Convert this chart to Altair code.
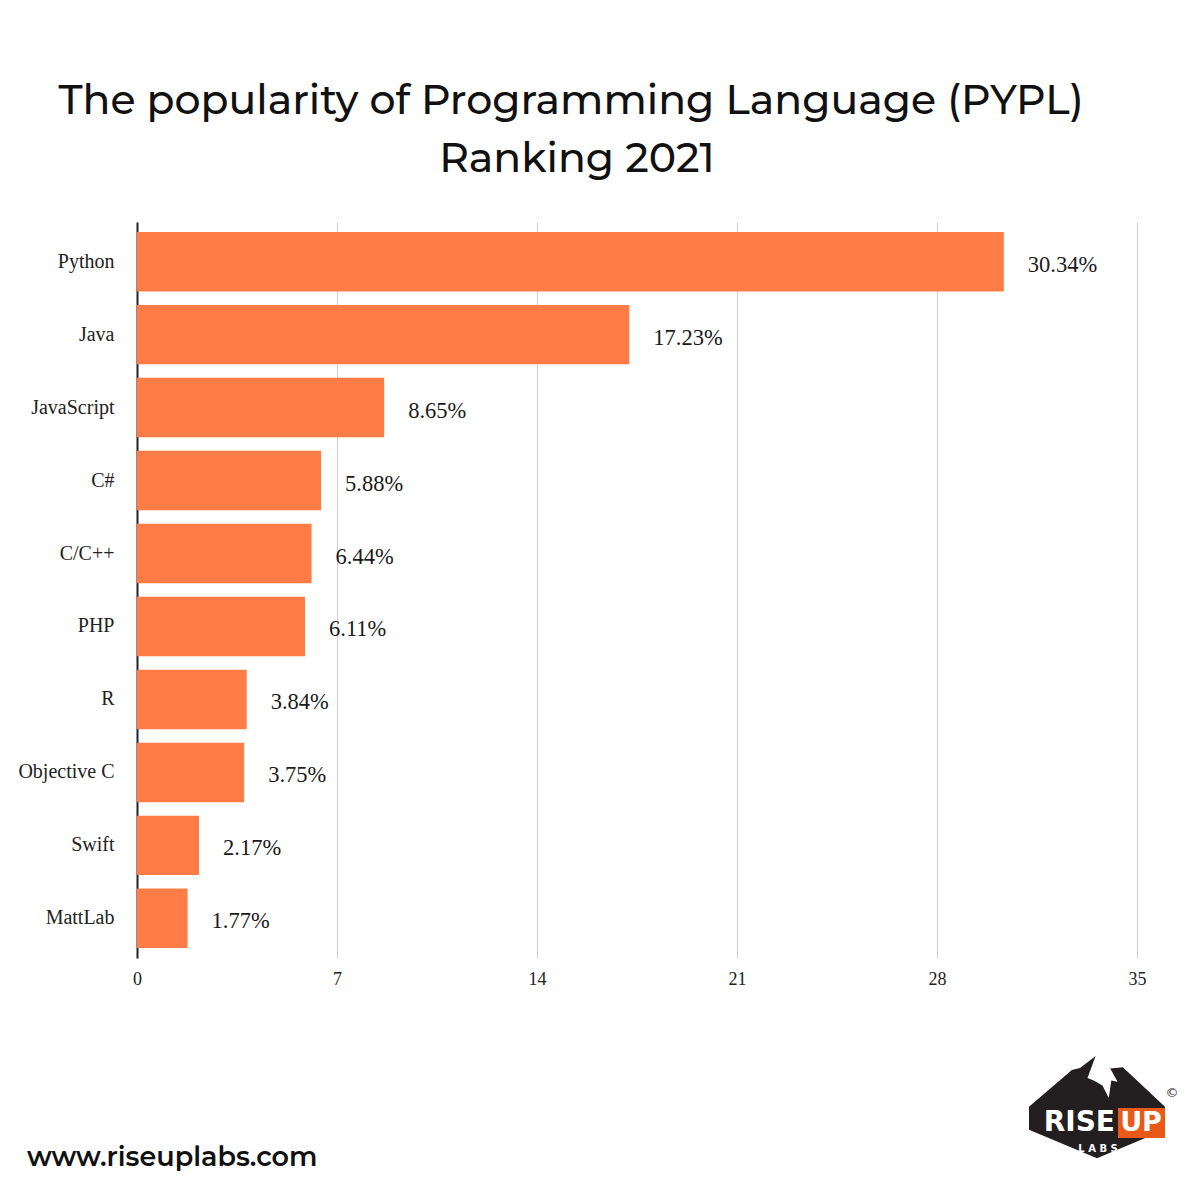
import altair as alt
import pandas as pd

languages = ["Python", "Java", "JavaScript", "C#", "C/C++", "PHP", "R", "Objective C", "Swift", "MattLab"]
bar_values = [30.34, 17.23, 8.65, 6.44, 6.11, 5.88, 3.84, 3.75, 2.17, 1.77]
value_labels = ["30.34%", "17.23%", "8.65%", "5.88%", "6.44%", "6.11%", "3.84%", "3.75%", "2.17%", "1.77%"]
x_ticks = [0, 7, 14, 21, 28, 35]

title_lines = ["The popularity of Programming Language (PYPL)", "Ranking 2021"]
footer_text = "www.riseuplabs.com"

df = pd.DataFrame({"language": languages, "value": bar_values, "label": value_labels})

ORANGE = "#FF7C47"
SERIF = "Liberation Serif"
SANS = "Montserrat, Inter, Noto Sans"

x_enc = alt.X("value:Q", scale=alt.Scale(domain=[0, 35], nice=False),
              axis=alt.Axis(values=x_ticks, title=None, grid=True, gridColor="#d4d4d4",
                            gridWidth=1.2, domain=False, ticks=False, labelFont=SERIF,
                            labelFontSize=18, labelColor="#222", labelPadding=12,
                            labelFlush=False))
y_enc = alt.Y("language:N", sort=languages,
              scale=alt.Scale(paddingInner=0.185, paddingOuter=0.136),
              axis=alt.Axis(title=None, ticks=False, domain=True, domainColor="#222",
                            domainWidth=2, labelFont=SERIF, labelFontSize=20,
                            labelColor="#222", labelPadding=23, grid=False))

bars = alt.Chart(df).mark_bar(color=ORANGE).encode(x=x_enc, y=y_enc)

labels = alt.Chart(df).mark_text(align="left", baseline="middle", dx=24, dy=3,
                                 font=SERIF, fontSize=22.5, color="#1a1a1a").encode(
    x="value:Q", y=alt.Y("language:N", sort=languages), text="label:N")

title1 = alt.Chart(pd.DataFrame({"t": [title_lines[0]]})).mark_text(
    font=SANS, fontSize=41, fontWeight=500, color="#111", align="center", baseline="alphabetic"
).encode(text="t:N", x=alt.value(434), y=alt.value(-108))
title2 = alt.Chart(pd.DataFrame({"t": [title_lines[1]]})).mark_text(
    font=SANS, fontSize=41, fontWeight=500, color="#111", align="center", baseline="alphabetic"
).encode(text="t:N", x=alt.value(440), y=alt.value(-50))

footer = alt.Chart(pd.DataFrame({"t": [footer_text]})).mark_text(
    font=SANS, fontSize=27, fontWeight=600, color="#111", align="left", baseline="alphabetic"
).encode(text="t:N", x=alt.value(-110), y=alt.value(944))

# Logo (decorative)
logo_shape = ("M0,-0.75 L0.2,-0.55 L0.38,-0.57 L1,0.01 L1,0.35 L0,0.77 "
              "L-1,0.35 L-1,0.01 L-0.37,-0.53 L-0.25,-0.56 Z")
snow_shape = ("M-0.15,-0.95 L0.1,-0.95 L0.7,0.15 L0.45,0.1 L0.35,0.8 L0.1,0.3 "
              "L-0.25,0.1 L-0.5,0.0 Z")
logo_bg = alt.Chart(pd.DataFrame({"a": [1]})).mark_point(
    shape=logo_shape, filled=True, color="#231f20", opacity=1, size=18496
).encode(x=alt.value(960), y=alt.value(884))
snow = alt.Chart(pd.DataFrame({"a": [1]})).mark_point(
    shape=snow_shape, filled=True, color="#ffffff", opacity=1, size=2500
).encode(x=alt.value(963), y=alt.value(856))
up_box = alt.Chart(pd.DataFrame({"a": [1]})).mark_rect(color="#E8591A").encode(
    x=alt.value(981), x2=alt.value(1028), y=alt.value(886), y2=alt.value(916))
rise = alt.Chart(pd.DataFrame({"t": ["RISE"]})).mark_text(
    font="DejaVu Sans", fontSize=28, fontWeight="bold", color="white", align="right", baseline="middle"
).encode(text="t:N", x=alt.value(978), y=alt.value(901))
up = alt.Chart(pd.DataFrame({"t": ["UP"]})).mark_text(
    font="DejaVu Sans", fontSize=27, fontWeight="bold", color="white", align="center", baseline="middle"
).encode(text="t:N", x=alt.value(1004), y=alt.value(901))
labs = alt.Chart(pd.DataFrame({"t": ["L A B S"]})).mark_text(
    font="DejaVu Sans", fontSize=10, fontWeight="bold", color="white", align="center", baseline="middle"
).encode(text="t:N", x=alt.value(961), y=alt.value(927))
copy = alt.Chart(pd.DataFrame({"t": ["©"]})).mark_text(
    font="DejaVu Sans", fontSize=13, color="#231f20", align="center", baseline="middle"
).encode(text="t:N", x=alt.value(1035), y=alt.value(871))

chart = alt.layer(bars, labels, title1, title2, footer, logo_bg, snow, up_box, rise, up, labs, copy).properties(
    width=1000, height=736,
    autosize=alt.AutoSizeParams(type="none"),
    padding={"left": 129, "top": 214, "right": 55, "bottom": 230},
    background="white",
).configure_view(stroke=None)

chart.save("out.html", embed_options={"renderer": "svg", "actions": False})
